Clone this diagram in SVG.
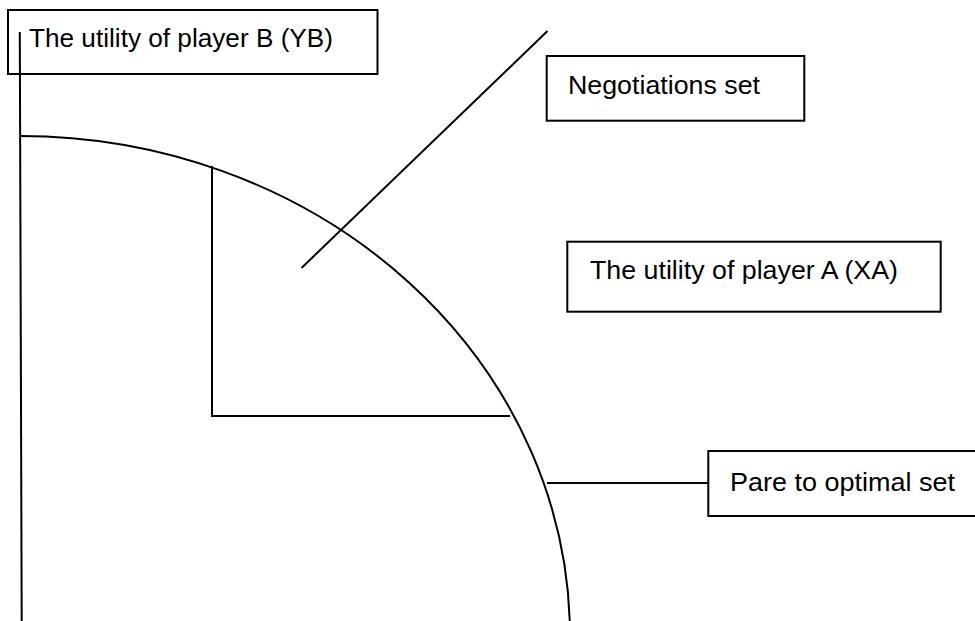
<svg xmlns="http://www.w3.org/2000/svg" width="975" height="621" viewBox="0 0 975 621">
  <style>
    .ln { fill: none; stroke: #000; stroke-width: 2; }
    .box { fill: #fff; stroke: #000; stroke-width: 2; }
    .lbl { font-family: "Liberation Sans", Arial, sans-serif; font-size: 25.5px; fill: #000; }
  </style>
  <rect width="975" height="621" fill="#fff"/>

  <g id="connectors">
    <!-- vertical axis (utility of B) -->
    <line class="ln" x1="19.8" y1="32" x2="21.7" y2="621"/>
    <!-- frontier arc -->
    <path class="ln" d="M20,136 A550,500 0 0 1 570,636"/>
    <!-- negotiation region corner -->
    <polyline class="ln" points="212,166 212,416 510,416"/>
    <!-- pointer to negotiations set -->
    <line class="ln" x1="301.5" y1="268" x2="547.5" y2="31"/>
    <!-- pointer to Pareto optimal set -->
    <line class="ln" x1="547" y1="483" x2="708" y2="483"/>
  </g>

  <g id="node-utility-b">
    <rect class="box" x="8" y="10" width="369.5" height="64" style="fill:none"/>
    <text class="lbl" x="29" y="47" textLength="304" lengthAdjust="spacingAndGlyphs">The utility of player B (YB)</text>
  </g>

  <g id="node-negotiations">
    <rect class="box" x="546.7" y="56" width="257.6" height="64.7"/>
    <text class="lbl" x="568" y="94.3" textLength="192" lengthAdjust="spacingAndGlyphs">Negotiations set</text>
  </g>

  <g id="node-utility-a">
    <rect class="box" x="567.3" y="241.7" width="373.4" height="70"/>
    <text class="lbl" x="590" y="279.3" textLength="308" lengthAdjust="spacingAndGlyphs">The utility of player A (XA)</text>
  </g>

  <g id="node-pareto">
    <rect class="box" x="708.3" y="451" width="280" height="65"/>
    <text class="lbl" x="730" y="490.7" textLength="225" lengthAdjust="spacingAndGlyphs">Pare to optimal set</text>
  </g>
</svg>
